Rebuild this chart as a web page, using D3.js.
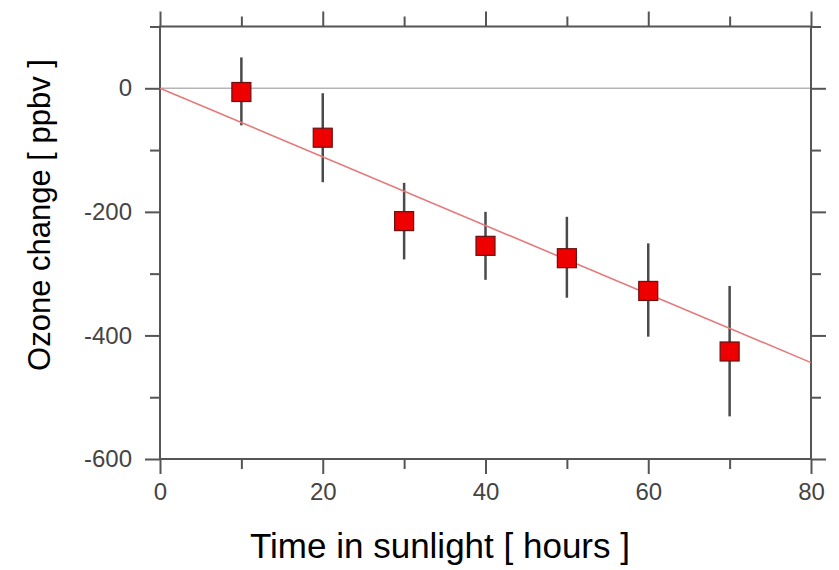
<!DOCTYPE html>
<html>
<head>
<meta charset="utf-8">
<script src="https://cdn.jsdelivr.net/npm/d3@7"></script>
<style>
  html, body { margin: 0; padding: 0; background: #fff; }
  svg { display: block; }
</style>
</head>
<body>
<svg id="chart" width="839" height="570"></svg>
<script>
// ---- data ----
const hours = [10, 20, 30, 40, 50, 60, 70];
const ozoneChange = [-6, -80, -215, -255, -275, -328, -426];
const errLow = [-60, -152, -277, -310, -339, -402, -531];
const errHigh = [50, -8, -153, -200, -208, -251, -320];
const fitStart = [0, 0];
const fitEnd = [80, -444];
const xTicksMajor = [0, 20, 40, 60, 80];
const xTicksMinor = [10, 30, 50, 70];
const yTicksMajor = [-600, -400, -200, 0];
const yTicksMinor = [-500, -300, -100, 100];
const xDomain = [0, 80];
const yDomain = [-600, 100];
const xTitle = "Time in sunlight [ hours ]";
const yTitle = "Ozone change [ ppbv ]";

// ---- layout ----
const svg = d3.select("#chart");
const L = 160, R = 811, T = 26.5, B = 459;
const x = d3.scaleLinear().domain(xDomain).range([L, R]);
const y = d3.scaleLinear().domain(yDomain).range([B, T]);
const axisColor = "#555";
const font = "Liberation Sans, Arial, Helvetica, sans-serif";
const fmt = d => String(d); // plain hyphen-minus as in the original

// zero line
svg.append("line")
  .attr("x1", x(xDomain[0])).attr("x2", x(xDomain[1]))
  .attr("y1", y(0)).attr("y2", y(0))
  .attr("stroke", "#b5b5b5").attr("stroke-width", 1.6);

function styleAxis(g) {
  g.select(".domain").remove();
  g.selectAll(".tick line").attr("stroke", axisColor).attr("stroke-width", 2);
  g.selectAll(".tick text").attr("fill", "#444").attr("font-family", font).attr("font-size", 24);
}

// bottom
svg.append("g").attr("transform", `translate(0,${B})`)
  .call(d3.axisBottom(x).tickValues(xTicksMajor).tickSize(15).tickPadding(9).tickFormat(fmt))
  .call(styleAxis);
svg.append("g").attr("transform", `translate(0,${B})`)
  .call(d3.axisBottom(x).tickValues(xTicksMinor).tickSize(10).tickFormat(""))
  .call(styleAxis);
// top
svg.append("g").attr("transform", `translate(0,${T})`)
  .call(d3.axisTop(x).tickValues(xTicksMajor).tickSize(15).tickFormat(""))
  .call(styleAxis);
svg.append("g").attr("transform", `translate(0,${T})`)
  .call(d3.axisTop(x).tickValues(xTicksMinor).tickSize(10).tickFormat(""))
  .call(styleAxis);
// left
svg.append("g").attr("transform", `translate(${L},0)`)
  .call(d3.axisLeft(y).tickValues(yTicksMajor).tickSize(15).tickPadding(13).tickFormat(fmt))
  .call(styleAxis);
svg.append("g").attr("transform", `translate(${L},0)`)
  .call(d3.axisLeft(y).tickValues(yTicksMinor).tickSize(10).tickFormat(""))
  .call(styleAxis);
// right
svg.append("g").attr("transform", `translate(${R},0)`)
  .call(d3.axisRight(y).tickValues(yTicksMajor).tickSize(15).tickFormat(""))
  .call(styleAxis);
svg.append("g").attr("transform", `translate(${R},0)`)
  .call(d3.axisRight(y).tickValues(yTicksMinor).tickSize(10).tickFormat(""))
  .call(styleAxis);

// frame
svg.append("rect")
  .attr("x", L).attr("y", T).attr("width", R - L).attr("height", B - T)
  .attr("fill", "none").attr("stroke", axisColor).attr("stroke-width", 2);

// error bars
svg.append("g").selectAll("line").data(hours).join("line")
  .attr("x1", d => x(d)).attr("x2", d => x(d))
  .attr("y1", (d, i) => y(errHigh[i])).attr("y2", (d, i) => y(errLow[i]))
  .attr("stroke", "#4a4a4a").attr("stroke-width", 2.5);

// fit line
svg.append("line")
  .attr("x1", x(fitStart[0])).attr("y1", y(fitStart[1]))
  .attr("x2", x(fitEnd[0])).attr("y2", y(fitEnd[1]))
  .attr("stroke", "#e57a7a").attr("stroke-width", 1.6);

// markers
const s = 19;
svg.append("g").selectAll("rect").data(hours).join("rect")
  .attr("x", d => x(d) - s / 2)
  .attr("y", (d, i) => y(ozoneChange[i]) - s / 2)
  .attr("width", s).attr("height", s)
  .attr("fill", "#ee0000").attr("stroke", "#6a1010").attr("stroke-width", 1.2);

// titles
svg.append("text")
  .attr("x", (248 + 632) / 2).attr("y", 558)
  .attr("text-anchor", "middle")
  .attr("font-family", font).attr("font-size", 35).attr("fill", "#000")
  .text(xTitle);
svg.append("text")
  .attr("transform", `translate(50,215) rotate(-90)`)
  .attr("text-anchor", "middle")
  .attr("font-family", font).attr("font-size", 31).attr("fill", "#000")
  .text(yTitle);
</script>
</body>
</html>
